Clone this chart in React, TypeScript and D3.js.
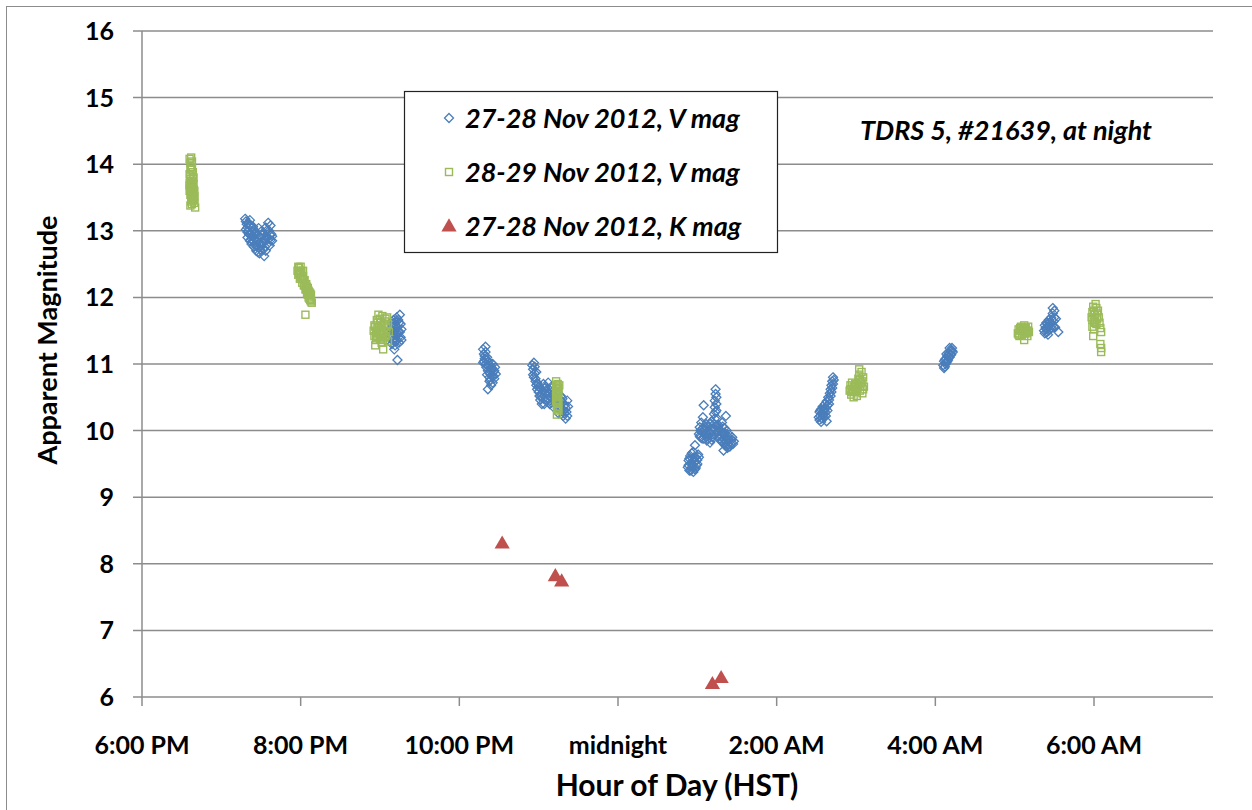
import React from "react";
import * as d3 from "d3";

// hour of day (18 = 6 PM, 24 = midnight, 30 = 6 AM), apparent magnitude
const vNov27: [number, number][] = [
  // ~7:30 PM
  [19.30, 13.18], [19.31, 13.14], [19.32, 13.10], [19.33, 13.05], [19.34, 13.00], [19.35, 12.95], [19.33, 12.90],
  [19.36, 12.85], [19.38, 12.80], [19.40, 12.92], [19.41, 13.02], [19.42, 12.88], [19.43, 12.78], [19.44, 12.70],
  [19.45, 12.95], [19.46, 12.84], [19.47, 12.75], [19.48, 12.66], [19.50, 12.90], [19.51, 13.00], [19.52, 12.82],
  [19.53, 12.72], [19.54, 12.62], [19.56, 13.05], [19.57, 12.92], [19.58, 12.80], [19.59, 13.12], [19.60, 12.88],
  [19.61, 12.78], [19.62, 13.08], [19.63, 12.95], [19.64, 12.85], [19.37, 13.08], [19.39, 12.98], [19.47, 13.04],
  [19.36, 13.16], [19.42, 12.96], [19.49, 12.82], [19.55, 12.88],
  [19.31, 13.02], [19.33, 12.98], [19.35, 13.08], [19.37, 12.94], [19.38, 12.88], [19.40, 12.84], [19.41, 12.76],
  [19.43, 12.98], [19.44, 12.86], [19.45, 12.78], [19.46, 12.68], [19.48, 12.92], [19.49, 12.72], [19.50, 12.78],
  [19.52, 12.94], [19.53, 12.86], [19.55, 12.76], [19.56, 12.70], [19.57, 13.00], [19.58, 12.90], [19.60, 13.00],
  [19.61, 12.94], [19.62, 12.86], [19.64, 12.92], [19.34, 13.12], [19.40, 13.06],
  // ~9:10 PM
  [21.12, 11.45], [21.13, 11.38], [21.14, 11.52], [21.15, 11.30], [21.15, 11.60], [21.16, 11.42], [21.17, 11.35],
  [21.17, 11.66], [21.18, 11.50], [21.19, 11.28], [21.19, 11.58], [21.20, 11.44], [21.21, 11.70], [21.21, 11.36],
  [21.22, 11.55], [21.23, 11.48], [21.24, 11.62], [21.24, 11.32], [21.25, 11.74], [21.26, 11.40], [21.27, 11.52],
  [21.22, 11.06], [21.18, 11.22], [21.20, 11.64], [21.23, 11.40],
  [21.14, 11.44], [21.16, 11.56], [21.17, 11.46], [21.18, 11.62], [21.20, 11.34], [21.22, 11.46], [21.23, 11.66],
  [21.25, 11.48], [21.26, 11.60], [21.27, 11.36],
  // ~10:20 PM
  [22.30, 11.22], [22.31, 11.15], [22.33, 11.26], [22.32, 11.08], [22.30, 11.02], [22.33, 11.00], [22.35, 11.10],
  [22.34, 10.95], [22.36, 10.90], [22.37, 11.04], [22.38, 10.86], [22.39, 10.98], [22.40, 10.92], [22.41, 10.82],
  [22.42, 11.00], [22.43, 10.88], [22.44, 10.78], [22.45, 10.95], [22.38, 10.74], [22.40, 10.68], [22.36, 10.62],
  [22.42, 10.72], [22.46, 10.85], [22.32, 11.12], [22.36, 10.98],
  [22.31, 11.04], [22.33, 11.18], [22.34, 11.06], [22.35, 10.84], [22.37, 10.96], [22.38, 10.80], [22.39, 10.90],
  [22.41, 10.94], [22.43, 10.82], [22.44, 10.90], [22.39, 10.76],
  // ~11:00 PM
  [22.92, 10.98], [22.93, 10.92], [22.94, 11.02], [22.95, 10.86], [22.94, 10.80], [22.96, 10.74], [22.97, 10.68],
  [22.98, 10.62], [22.99, 10.70], [23.00, 10.58], [23.02, 10.64], [23.03, 10.52], [23.05, 10.60], [23.06, 10.48],
  [23.08, 10.56], [23.09, 10.66], [23.10, 10.44], [23.11, 10.54], [23.13, 10.62], [23.14, 10.40], [23.15, 10.50],
  [23.17, 10.58], [23.18, 10.36], [23.20, 10.46], [23.22, 10.56], [23.24, 10.34], [23.26, 10.42], [23.28, 10.30],
  [23.30, 10.48], [23.31, 10.22], [23.33, 10.38], [23.34, 10.18], [23.35, 10.28], [23.36, 10.45], [23.06, 10.70],
  [23.12, 10.72], [23.04, 10.40], [23.16, 10.66], [23.28, 10.52], [23.32, 10.30],
  [22.93, 10.84], [22.95, 10.96], [22.96, 10.78], [22.97, 10.88], [22.98, 10.72], [23.00, 10.66], [23.01, 10.52],
  [23.02, 10.46], [23.04, 10.56], [23.07, 10.40], [23.08, 10.64], [23.10, 10.58], [23.12, 10.48], [23.14, 10.56],
  [23.16, 10.42], [23.19, 10.52], [23.21, 10.40], [23.23, 10.48], [23.25, 10.26], [23.27, 10.36], [23.29, 10.44],
  [23.32, 10.26], [23.34, 10.34], [23.36, 10.22], [23.37, 10.36],
  // ~1:00 AM
  [24.88, 9.45], [24.89, 9.55], [24.90, 9.40], [24.91, 9.62], [24.92, 9.50], [24.93, 9.44], [24.94, 9.58],
  [24.95, 9.68], [24.96, 9.52], [24.97, 9.42], [24.98, 9.60], [24.99, 9.48], [25.00, 9.56], [25.01, 9.64],
  [24.95, 9.38], [24.97, 9.78],
  [24.89, 9.48], [24.90, 9.58], [24.92, 9.40], [24.93, 9.66], [24.94, 9.46], [24.96, 9.60], [24.98, 9.44],
  [25.00, 9.50], [25.02, 9.60],
  [25.02, 9.95], [25.03, 10.05], [25.04, 9.90], [25.05, 10.12], [25.06, 9.98], [25.07, 10.20], [25.08, 9.88],
  [25.09, 10.02], [25.10, 9.94], [25.11, 10.10], [25.12, 9.85], [25.13, 10.00], [25.14, 9.92], [25.15, 10.06],
  [25.16, 9.82], [25.17, 9.96], [25.18, 10.14], [25.19, 9.90], [25.20, 10.04], [25.21, 10.25], [25.22, 10.35],
  [25.22, 10.45], [25.23, 10.55], [25.23, 10.62], [25.24, 10.40], [25.24, 10.30], [25.25, 10.18], [25.26, 9.98],
  [25.27, 10.08], [25.28, 9.88], [25.29, 10.00], [25.30, 9.92], [25.31, 10.12], [25.32, 9.84], [25.33, 9.96],
  [25.34, 10.04], [25.35, 9.78], [25.36, 9.90], [25.37, 10.00], [25.38, 9.74], [25.39, 9.86], [25.40, 9.94],
  [25.42, 9.80], [25.44, 9.90], [25.46, 9.84], [25.08, 10.38], [25.36, 10.22], [25.33, 9.70],
  [25.03, 9.92], [25.04, 10.00], [25.06, 9.88], [25.07, 10.04], [25.09, 9.94], [25.10, 10.06], [25.12, 9.96],
  [25.13, 9.88], [25.15, 9.98], [25.16, 10.10], [25.18, 9.86], [25.19, 10.00], [25.20, 9.94], [25.21, 10.10],
  [25.22, 10.18], [25.23, 10.28], [25.24, 10.50], [25.25, 10.08], [25.26, 10.04], [25.27, 9.92], [25.28, 10.02],
  [25.30, 9.84], [25.31, 9.96], [25.32, 10.06], [25.33, 9.88], [25.34, 9.80], [25.35, 9.96], [25.36, 9.84],
  [25.37, 9.76], [25.38, 9.92], [25.39, 9.80], [25.40, 9.86], [25.41, 9.76], [25.43, 9.86], [25.45, 9.80],
  // ~2:35 AM
  [26.53, 10.20], [26.54, 10.28], [26.55, 10.22], [26.56, 10.32], [26.57, 10.26], [26.58, 10.36], [26.59, 10.24],
  [26.60, 10.30], [26.61, 10.40], [26.62, 10.34], [26.63, 10.44], [26.64, 10.38], [26.65, 10.50], [26.66, 10.46],
  [26.67, 10.56], [26.68, 10.62], [26.68, 10.52], [26.69, 10.68], [26.70, 10.74], [26.70, 10.64], [26.71, 10.80],
  [26.72, 10.76], [26.56, 10.13], [26.63, 10.14],
  [26.54, 10.16], [26.55, 10.30], [26.57, 10.18], [26.58, 10.24], [26.59, 10.32], [26.60, 10.20], [26.61, 10.28],
  [26.62, 10.22], [26.64, 10.30], [26.66, 10.40], [26.69, 10.58], [26.71, 10.70],
  // ~4:10 AM
  [28.10, 10.98], [28.11, 11.04], [28.12, 10.96], [28.13, 11.08], [28.14, 11.02], [28.15, 11.12], [28.16, 11.06],
  [28.17, 11.16], [28.18, 11.10], [28.19, 11.20], [28.20, 11.14], [28.21, 11.24], [28.22, 11.18], [28.14, 11.15],
  [28.11, 10.94], [28.13, 11.00], [28.15, 11.04], [28.17, 11.10], [28.19, 11.14], [28.21, 11.20], [28.12, 11.06],
  [28.18, 11.24],
  // ~5:30 AM
  [29.37, 11.50], [29.38, 11.58], [29.39, 11.54], [29.40, 11.62], [29.41, 11.48], [29.42, 11.56], [29.43, 11.66],
  [29.44, 11.52], [29.45, 11.60], [29.46, 11.70], [29.47, 11.58], [29.48, 11.76], [29.49, 11.64], [29.50, 11.80],
  [29.51, 11.55], [29.52, 11.68], [29.55, 11.48], [29.42, 11.44],
  [29.38, 11.46], [29.40, 11.52], [29.41, 11.60], [29.43, 11.50], [29.44, 11.62], [29.46, 11.54], [29.47, 11.66],
  [29.49, 11.56], [29.50, 11.70], [29.48, 11.84],
];

const vNov28: [number, number][] = [
  // ~6:40 PM
  [18.60, 14.08], [18.61, 14.02], [18.62, 14.10], [18.62, 13.96], [18.60, 13.85], [18.61, 13.78], [18.62, 13.72],
  [18.63, 13.66], [18.64, 13.80], [18.60, 13.60], [18.61, 13.54], [18.62, 13.50], [18.63, 13.58], [18.64, 13.46],
  [18.65, 13.62], [18.66, 13.52], [18.65, 13.70], [18.66, 13.42], [18.63, 13.40], [18.61, 13.38], [18.67, 13.35],
  [18.64, 13.88], [18.63, 13.75], [18.60, 13.68], [18.66, 13.60],
  [18.60, 13.72], [18.61, 13.64], [18.62, 13.58], [18.63, 13.52], [18.64, 13.64], [18.65, 13.56], [18.66, 13.48],
  [18.62, 13.44], [18.64, 13.72], [18.61, 13.84], [18.65, 13.80], [18.63, 13.92], [18.61, 13.92], [18.63, 14.04],
  // ~8:00 PM
  [19.96, 12.40], [19.97, 12.34], [19.98, 12.44], [19.99, 12.28], [20.00, 12.38], [20.01, 12.30], [20.02, 12.22],
  [20.03, 12.32], [20.04, 12.18], [20.05, 12.26], [20.06, 12.12], [20.07, 12.20], [20.08, 12.06], [20.09, 12.14],
  [20.10, 12.00], [20.11, 12.08], [20.12, 11.96], [20.13, 12.04], [20.14, 11.92], [20.06, 11.74], [20.00, 12.46],
  [20.03, 12.40],
  [19.97, 12.46], [19.98, 12.36], [19.99, 12.40], [20.00, 12.30], [20.01, 12.38], [20.02, 12.28], [20.04, 12.26],
  [20.05, 12.18], [20.07, 12.12], [20.08, 12.16], [20.09, 12.04], [20.10, 12.10], [20.11, 11.98], [20.12, 12.06],
  [20.13, 11.94],
  // ~9:00 PM
  [20.92, 11.50], [20.93, 11.42], [20.94, 11.56], [20.95, 11.36], [20.96, 11.48], [20.97, 11.62], [20.98, 11.40],
  [20.99, 11.54], [21.00, 11.68], [21.01, 11.44], [21.02, 11.58], [21.03, 11.72], [21.04, 11.36], [21.05, 11.50],
  [21.06, 11.64], [21.07, 11.42], [21.08, 11.56], [21.09, 11.70], [21.10, 11.34], [21.11, 11.48], [20.94, 11.28],
  [21.04, 11.22], [20.98, 11.74],
  [20.93, 11.58], [20.95, 11.48], [20.96, 11.40], [20.97, 11.54], [20.99, 11.46], [21.00, 11.38], [21.01, 11.62],
  [21.02, 11.50], [21.03, 11.44], [21.05, 11.60], [21.06, 11.40], [21.07, 11.68], [21.08, 11.48], [21.10, 11.60],
  [20.96, 11.66], [21.02, 11.32],
  // ~11:15 PM
  [23.22, 10.74], [23.23, 10.66], [23.24, 10.70], [23.22, 10.58], [23.23, 10.50], [23.24, 10.62], [23.22, 10.44],
  [23.23, 10.36], [23.24, 10.46], [23.25, 10.30], [23.23, 10.24], [23.24, 10.40], [23.25, 10.56], [23.26, 10.68],
  [23.22, 10.68], [23.23, 10.60], [23.24, 10.54], [23.22, 10.50], [23.23, 10.42], [23.24, 10.32], [23.25, 10.42],
  [23.25, 10.64],
  // ~3:00 AM
  [26.92, 10.60], [26.93, 10.68], [26.94, 10.54], [26.95, 10.72], [26.96, 10.62], [26.97, 10.50], [26.98, 10.66],
  [26.99, 10.58], [27.00, 10.70], [27.01, 10.52], [27.02, 10.64], [27.03, 10.78], [27.04, 10.84], [27.05, 10.60],
  [27.06, 10.72], [27.07, 10.88], [27.08, 10.56], [27.09, 10.80], [27.10, 10.66], [27.04, 10.92],
  [26.93, 10.62], [26.95, 10.58], [26.97, 10.66], [26.99, 10.70], [27.01, 10.60], [27.03, 10.68], [27.05, 10.76],
  [27.07, 10.66], [27.08, 10.74], [27.09, 10.62],
  // ~5:05 AM
  [29.04, 11.46], [29.05, 11.52], [29.06, 11.42], [29.07, 11.50], [29.08, 11.56], [29.09, 11.44], [29.10, 11.52],
  [29.11, 11.48], [29.12, 11.58], [29.13, 11.46], [29.14, 11.54], [29.15, 11.50], [29.16, 11.42], [29.17, 11.56],
  [29.18, 11.48], [29.12, 11.36],
  [29.05, 11.44], [29.07, 11.54], [29.09, 11.50], [29.11, 11.52], [29.13, 11.54], [29.15, 11.46], [29.17, 11.50],
  // ~6:00 AM
  [29.97, 11.70], [29.98, 11.78], [29.99, 11.86], [30.00, 11.64], [30.01, 11.74], [30.02, 11.90], [30.03, 11.60],
  [30.04, 11.68], [30.05, 11.80], [29.98, 11.56], [30.00, 11.52], [29.99, 11.42], [30.07, 11.62], [30.08, 11.54],
  [30.09, 11.48], [30.08, 11.30], [30.09, 11.24], [30.09, 11.18], [30.06, 11.70],
  [29.98, 11.66], [30.00, 11.80], [30.01, 11.62], [30.03, 11.84], [30.04, 11.76],
];

const kNov27: [number, number][] = [
  [22.54, 8.31], [23.21, 7.82], [23.29, 7.74], [25.19, 6.20], [25.30, 6.29],
];

const xTicks = [18, 20, 22, 24, 26, 28, 30];
const xTickLabels = ["6:00 PM", "8:00 PM", "10:00 PM", "midnight", "2:00 AM", "4:00 AM", "6:00 AM"];
const yTicks = [6, 7, 8, 9, 10, 11, 12, 13, 14, 15, 16];

const legendItems = [
  { label: "27-28 Nov 2012, V mag", kind: "diamond" },
  { label: "28-29 Nov 2012, V mag", kind: "square" },
  { label: "27-28 Nov 2012, K mag", kind: "triangle" },
];

const BLUE = "#4a7ebb";
const GREEN = "#9bbb59";
const RED = "#c0504d";
const GRID = "#8c8c8c";
const FONT = "Lato, 'Open Sans', sans-serif";

const Marker = ({ kind, x, y }: { kind: string; x: number; y: number }) => {
  if (kind === "diamond") {
    const s = 4.5;
    return (
      <path
        d={`M${x},${y - s}L${x + s},${y}L${x},${y + s}L${x - s},${y}Z`}
        fill="none"
        stroke={BLUE}
        strokeWidth={1.3}
      />
    );
  }
  if (kind === "square") {
    return <rect x={x - 3.5} y={y - 3.5} width={7} height={7} fill="none" stroke={GREEN} strokeWidth={1.4} />;
  }
  const sym = d3.symbol().type(d3.symbolTriangle).size(100);
  return <path d={sym() as string} transform={`translate(${x},${y + 1})`} fill={RED} />;
};

export default function App() {
  const width = 1252;
  const height = 810;
  const x = d3.scaleLinear().domain([18, 31.5]).range([142, 1213]);
  const y = d3.scaleLinear().domain([6, 16]).range([697, 31]);

  return (
    <svg
      width={width}
      height={height}
      style={{ position: "absolute", left: 0, top: 0, background: "white" }}
      fontFamily={FONT}
    >
      <rect x={6.5} y={6.5} width={1260} height={820} fill="white" stroke="#8c8c8c" strokeWidth={1} />

      {/* gridlines */}
      {yTicks.map((t) => (
        <g key={t}>
          <line x1={133} x2={x(31.5)} y1={y(t)} y2={y(t)} stroke={GRID} strokeWidth={1.5} />
          <text x={114} y={y(t)} dy="0.36em" textAnchor="end" fontSize={25} fontWeight="bold">
            {t}
          </text>
        </g>
      ))}
      <line x1={x(18)} x2={x(18)} y1={y(16)} y2={y(6)} stroke={GRID} strokeWidth={1.5} />

      {xTicks.map((t, i) => (
        <g key={t}>
          <line x1={x(t)} x2={x(t)} y1={y(6)} y2={y(6) + 9} stroke={GRID} strokeWidth={1.5} />
          <text x={x(t)} y={754} textAnchor="middle" fontSize={25} fontWeight="bold">
            {xTickLabels[i]}
          </text>
        </g>
      ))}

      {/* series */}
      {vNov27.map((d, i) => (
        <Marker key={"b" + i} kind="diamond" x={x(d[0])} y={y(d[1])} />
      ))}
      {vNov28.map((d, i) => (
        <Marker key={"g" + i} kind="square" x={x(d[0])} y={y(d[1])} />
      ))}
      {kNov27.map((d, i) => (
        <Marker key={"r" + i} kind="triangle" x={x(d[0])} y={y(d[1])} />
      ))}

      {/* axis titles */}
      <text x={677} y={796} textAnchor="middle" fontSize={30} fontWeight="bold">
        Hour of Day (HST)
      </text>
      <text
        transform="translate(57, 340) rotate(-90)"
        textAnchor="middle"
        fontSize={27}
        fontWeight="bold"
      >
        Apparent Magnitude
      </text>

      {/* legend */}
      <rect x={404.5} y={91.5} width={373} height={161} fill="white" stroke="#222" strokeWidth={1.2} />
      {legendItems.map((it, i) => (
        <g key={it.label}>
          <Marker kind={it.kind} x={449} y={118 + i * 54} />
          <text
            x={465}
            y={118 + i * 54}
            dy="0.36em"
            fontSize={27}
            fontWeight="bold"
            fontStyle="italic"
          >
            {it.label}
          </text>
        </g>
      ))}

      <text x={860} y={130} dy="0.36em" fontSize={27} fontWeight="bold" fontStyle="italic">
        TDRS 5, #21639, at night
      </text>
    </svg>
  );
}
